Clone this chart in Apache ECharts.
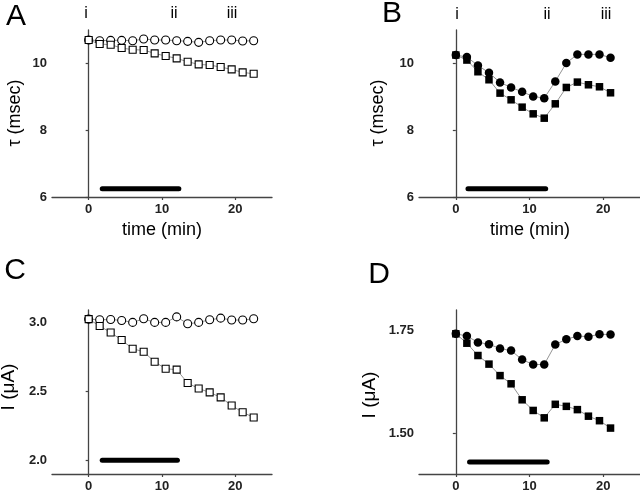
<!DOCTYPE html>
<html><head><meta charset="utf-8">
<script src="https://cdn.jsdelivr.net/npm/echarts@6/dist/echarts.min.js"></script>
<style>html,body{margin:0;padding:0;background:#fff}#c{width:640px;height:493px}</style>
</head><body><div id="c"></div>
<script>
// ---- data ----
const timeAC = [0,1.5,3,4.5,6,7.5,9,10.5,12,13.5,15,16.5,18,19.5,21,22.5];
const timeBD = [0,1.5,3,4.5,6,7.5,9,10.5,12,13.5,15,16.5,18,19.5,21];
const tauA_circle = [10.70,10.68,10.69,10.69,10.68,10.73,10.70,10.70,10.68,10.66,10.63,10.68,10.70,10.70,10.67,10.68];
const tauA_square = [10.70,10.58,10.56,10.46,10.41,10.40,10.30,10.22,10.15,10.05,9.97,9.95,9.89,9.82,9.73,9.69];
const tauB_circle = [10.25,10.19,9.94,9.72,9.43,9.28,9.15,9.01,8.96,9.46,10.01,10.27,10.27,10.27,10.17];
const tauB_square = [10.25,10.10,9.75,9.51,9.11,8.91,8.69,8.49,8.36,8.79,9.28,9.44,9.36,9.30,9.12];
const IC_circle = [3.024,3.019,3.021,3.014,3.0,3.026,3.0,3.0,3.04,2.99,3.0,3.019,3.031,3.017,3.017,3.026];
const IC_square = [3.024,2.974,2.927,2.872,2.809,2.787,2.714,2.664,2.657,2.560,2.520,2.492,2.456,2.397,2.348,2.310];
const ID_circle = [1.742,1.7365,1.721,1.7166,1.706,1.701,1.679,1.667,1.667,1.716,1.7285,1.7365,1.735,1.741,1.740];
const ID_square = [1.742,1.719,1.689,1.668,1.640,1.620,1.581,1.555,1.537,1.570,1.565,1.557,1.541,1.530,1.512];
// application bars: [start, end, level]
const barA = [1.85, 12.3, 6.25];
const barB = [1.65, 12.2, 6.25];
const barC = [1.85, 12.1, 2.0];
const barD = [1.86, 12.4, 1.429];
const xTicks = [0,10,20];
const yTicksTau = [6,8,10];
const yTicksC = [2.0,2.5,3.0];
const yTicksD = [1.50,1.75];
const panelLetters = ['A','B','C','D'];
const romans = ['i','ii','iii'];

// ---- chart ----
const chart = echarts.init(document.getElementById('c'), null, {renderer:'canvas'});
const axisCol = '#444';
const lblFont = {fontFamily:'Liberation Sans, Arial', fontWeight:'bold', fontSize:13, color:'#222'};
function xAx(i){
  return {gridIndex:i, type:'value', min:-5, max:25,
    axisLine:{lineStyle:{color:axisCol,width:1.3}},
    axisTick:{customValues:xTicks, length:3, lineStyle:{color:axisCol,width:1.2}},
    axisLabel:Object.assign({customValues:xTicks, margin:6}, lblFont),
    splitLine:{show:false}};
}
function yAx(i,min,max,ticks,fmt){
  return {gridIndex:i, type:'value', min:min, max:max,
    axisLine:{show:true,lineStyle:{color:axisCol,width:1.3}},
    axisTick:{show:true,customValues:ticks, length:3, lineStyle:{color:axisCol,width:1.2}},
    axisLabel:Object.assign({customValues:ticks, margin:5, formatter:fmt}, lblFont),
    splitLine:{show:false}};
}
function zip(xs,ys){return xs.map((x,i)=>[x,ys[i]]);}
function pts(i,xs,ys,sym,size,filled){
  return {type:'line', xAxisIndex:i, yAxisIndex:i, data:zip(xs,ys),
    symbol:sym, symbolSize:size, showSymbol:true,
    lineStyle:{color:'#777',width:0.8},
    itemStyle:{color:filled?'#000':'#fff', borderColor:'#000', borderWidth:filled?0:1.1},
    z:3, animation:false, silent:true};
}
function bar(i,b){
  return {type:'line', xAxisIndex:i, yAxisIndex:i, data:[[b[0],b[2]],[b[1],b[2]]],
    symbol:'none', lineStyle:{color:'#000',width:5,cap:'round'}, animation:false, silent:true};
}
const grids = [
  {left:52, top:30, width:220, height:167},
  {left:419, top:30, width:221, height:167},
  {left:52, top:310, width:220, height:168},
  {left:419, top:310, width:221, height:168}
];
const txt = (x,y,s,size,rot)=>({type:'text', x:x, y:y, rotation:rot||0,
  style:{text:s, fontSize:size, fontFamily:'Liberation Sans, Arial', fill:'#000', align:'center', verticalAlign:'middle'}});
const letterPos = [[16,17],[392,14],[15,271],[379,275]];
const romanPosA = [86,174,232], romanPosB = [457,547,606];
const graphic = [];
panelLetters.forEach((l,i)=>graphic.push(txt(letterPos[i][0],letterPos[i][1],l,30)));
romans.forEach((r,i)=>{graphic.push(txt(romanPosA[i],14,r,16)); graphic.push(txt(romanPosB[i],15,r,16));});
graphic.push(txt(15,113,'τ (msec)',18,Math.PI/2));
graphic.push(txt(378,113,'τ (msec)',18,Math.PI/2));
graphic.push(txt(162,230,'time (min)',18));
graphic.push(txt(530,230,'time (min)',18));
graphic.push(txt(9,387,'I (μA)',19,Math.PI/2));
graphic.push(txt(370,395,'I (μA)',19,Math.PI/2));

chart.setOption({
  animation:false,
  grid:grids,
  xAxis:[xAx(0),xAx(1),xAx(2),xAx(3)],
  yAxis:[yAx(0,6,11,yTicksTau), yAx(1,6,11,yTicksTau),
         yAx(2,1.9,3.09,yTicksC,v=>v.toFixed(1)), yAx(3,1.4,1.8,yTicksD,v=>v.toFixed(2))],
  series:[
    pts(0,timeAC,tauA_circle,'circle',8,false),
    pts(0,timeAC,tauA_square,'rect',7,false),
    bar(0,barA),
    pts(1,timeBD,tauB_circle,'circle',8.5,true),
    pts(1,timeBD,tauB_square,'rect',7.5,true),
    bar(1,barB),
    pts(2,timeAC,IC_circle,'circle',8,false),
    pts(2,timeAC,IC_square,'rect',7,false),
    bar(2,barC),
    pts(3,timeBD,ID_circle,'circle',8.5,true),
    pts(3,timeBD,ID_square,'rect',7.5,true),
    bar(3,barD)
  ],
  graphic:graphic
});
</script></body></html>
